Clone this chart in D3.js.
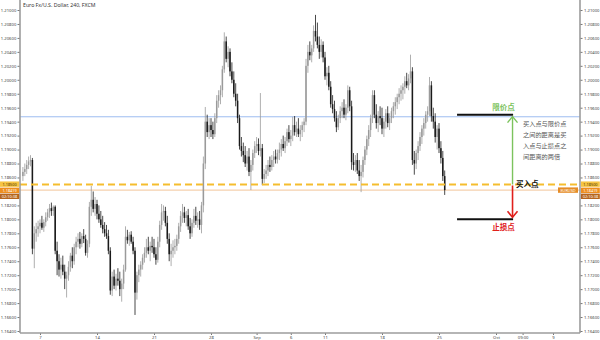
<!DOCTYPE html>
<html lang="zh">
<head>
<meta charset="utf-8">
<title>Euro Fx/U.S. Dollar, 240, FXCM</title>
<script src="https://d3js.org/d3.v7.min.js"></script>
<style>
  body { margin: 0; background: #fff; font-family: "Noto Sans", "Noto Sans CJK SC", sans-serif; }
  svg { display: block; }
</style>
</head>
<body>
<script>
  // ----------------------------------------------------
  // Data: EUR/USD 4h candles (bar 0 = Mon Aug 7 00:00, 6 bars per day)
  // ----------------------------------------------------
  const firstBar = -9;

  const opens = [
    1.1862, 1.1868, 1.1872, 1.1878, 1.1883, 1.1885, 1.1758, 1.1780, 1.1786,
    1.1790, 1.1795, 1.1788, 1.1796, 1.1803, 1.1810,
    1.1816, 1.1812, 1.1818, 1.1755, 1.1740, 1.1728,
    1.1735, 1.1725, 1.1715, 1.1720, 1.1732, 1.1748,
    1.1740, 1.1760, 1.1768, 1.1772, 1.1765, 1.1776,
    1.1772, 1.1752, 1.1765, 1.1818, 1.1828, 1.1815,
    1.1822, 1.1808, 1.1800, 1.1792, 1.1786, 1.1780,
    1.1776, 1.1755, 1.1698, 1.1718, 1.1705, 1.1715,
    1.1712, 1.1700, 1.1708, 1.1728, 1.1775, 1.1770,
    1.1778, 1.1768, 1.1755, 1.1695, 1.1720, 1.1728,
    1.1735, 1.1745, 1.1752, 1.1760, 1.1755, 1.1762,
    1.1760, 1.1750, 1.1742, 1.1768, 1.1792, 1.1810,
    1.1812, 1.1795, 1.1772, 1.1750, 1.1755, 1.1760,
    1.1762, 1.1772, 1.1790, 1.1805, 1.1810, 1.1802,
    1.1806, 1.1790, 1.1780, 1.1795, 1.1805, 1.1798,
    1.1800, 1.1792, 1.1820, 1.1880, 1.1940, 1.1925,
    1.1935, 1.1928, 1.1922, 1.1945, 1.1970, 1.1978,
    1.1985, 1.2015, 1.2055, 1.2030, 1.2040, 1.2012,
    1.2000, 1.1980, 1.1970, 1.1945, 1.1905, 1.1898,
    1.1892, 1.1880, 1.1890, 1.1868, 1.1878, 1.1895,
    1.1905, 1.1908, 1.1898, 1.1902, 1.1858, 1.1865,
    1.1870, 1.1878, 1.1875, 1.1885, 1.1890, 1.1886,
    1.1895, 1.1900, 1.1908, 1.1902, 1.1912, 1.1925,
    1.1915, 1.1920, 1.1935, 1.1925, 1.1930, 1.1922,
    1.1928, 1.1935, 1.1940, 1.2020, 1.2040, 1.2035,
    1.2045, 1.2070, 1.2062, 1.2050, 1.2040, 1.2050,
    1.2032, 1.2005, 1.2010, 1.1990, 1.1965, 1.1958,
    1.1945, 1.1932, 1.1945, 1.1955, 1.1960, 1.1950,
    1.1960, 1.1985, 1.1962, 1.1882, 1.1878, 1.1885,
    1.1870, 1.1862, 1.1868, 1.1885, 1.1900, 1.1915,
    1.1928, 1.1945, 1.1978, 1.1950, 1.1938, 1.1948,
    1.1945, 1.1930, 1.1940, 1.1952, 1.1938, 1.1945,
    1.1955, 1.1962, 1.1968, 1.1975, 1.1980, 1.1985,
    1.1990, 1.1998, 1.1992, 1.2002, 1.2012, 1.1885,
    1.1880, 1.1895, 1.1905, 1.1918, 1.1930, 1.1938,
    1.1950, 1.1955, 1.1992, 1.1948, 1.1940, 1.1918,
    1.1930, 1.1902, 1.1888, 1.1862
  ];

  const highs = [
    1.1875, 1.1880, 1.1885, 1.1890, 1.1892, 1.1888, 1.1790, 1.1795, 1.1798,
    1.1800, 1.1805, 1.1800, 1.1810, 1.1815, 1.1822,
    1.1824, 1.1820, 1.1820, 1.1768, 1.1750, 1.1745,
    1.1748, 1.1735, 1.1725, 1.1740, 1.1752, 1.1760,
    1.1765, 1.1775, 1.1780, 1.1782, 1.1780, 1.1786,
    1.1778, 1.1770, 1.1825, 1.1848, 1.1840, 1.1832,
    1.1828, 1.1820, 1.1812, 1.1805, 1.1796, 1.1792,
    1.1785, 1.1760, 1.1725, 1.1728, 1.1722, 1.1730,
    1.1725, 1.1715, 1.1735, 1.1790, 1.1785, 1.1782,
    1.1783, 1.1775, 1.1760, 1.1725, 1.1735, 1.1740,
    1.1750, 1.1760, 1.1772, 1.1775, 1.1768, 1.1775,
    1.1772, 1.1760, 1.1775, 1.1798, 1.1822, 1.1820,
    1.1818, 1.1805, 1.1780, 1.1765, 1.1770, 1.1772,
    1.1778, 1.1795, 1.1812, 1.1822, 1.1818, 1.1812,
    1.1815, 1.1802, 1.1800, 1.1815, 1.1818, 1.1810,
    1.1812, 1.1825, 1.1890, 1.1961, 1.1950, 1.1945,
    1.1945, 1.1940, 1.1952, 1.1978, 1.1985, 1.1992,
    1.2020, 1.2068, 1.2062, 1.2048, 1.2045, 1.2025,
    1.2012, 1.1995, 1.1980, 1.1950, 1.1918, 1.1910,
    1.1905, 1.1898, 1.1902, 1.1885, 1.1900, 1.1912,
    1.1918, 1.1916, 1.1981, 1.1908, 1.1872, 1.1878,
    1.1885, 1.1890, 1.1892, 1.1898, 1.1900, 1.1900,
    1.1910, 1.1915, 1.1920, 1.1918, 1.1930, 1.1935,
    1.1928, 1.1947, 1.1948, 1.1940, 1.1945, 1.1935,
    1.1940, 1.1945, 1.2030, 1.2050, 1.2055, 1.2050,
    1.2078, 1.2093, 1.2082, 1.2062, 1.2058, 1.2055,
    1.2040, 1.2018, 1.2020, 1.1998, 1.1978, 1.1970,
    1.1955, 1.1950, 1.1962, 1.1968, 1.1972, 1.1965,
    1.1992, 1.1990, 1.1970, 1.1895, 1.1892, 1.1895,
    1.1885, 1.1878, 1.1890, 1.1905, 1.1920, 1.1935,
    1.1950, 1.1985, 1.1985, 1.1965, 1.1955, 1.1962,
    1.1960, 1.1945, 1.1958, 1.1962, 1.1952, 1.1960,
    1.1968, 1.1975, 1.1980, 1.1988, 1.1992, 1.1995,
    1.2005, 1.2010, 1.2008, 1.2036, 1.2018, 1.1898,
    1.1900, 1.1912, 1.1925, 1.1935, 1.1945, 1.1955,
    1.1962, 1.2004, 1.1998, 1.1960, 1.1952, 1.1935,
    1.1938, 1.1912, 1.1898, 1.1870
  ];

  const lows = [
    1.1855, 1.1862, 1.1865, 1.1872, 1.1876, 1.1750, 1.1730, 1.1768, 1.1775,
    1.1780, 1.1785, 1.1782, 1.1790, 1.1798, 1.1802,
    1.1805, 1.1805, 1.1750, 1.1720, 1.1718, 1.1715,
    1.1720, 1.1700, 1.1688, 1.1712, 1.1725, 1.1730,
    1.1735, 1.1750, 1.1760, 1.1758, 1.1760, 1.1766,
    1.1748, 1.1745, 1.1760, 1.1805, 1.1810, 1.1805,
    1.1800, 1.1795, 1.1788, 1.1780, 1.1775, 1.1772,
    1.1750, 1.1692, 1.1690, 1.1700, 1.1698, 1.1705,
    1.1690, 1.1682, 1.1700, 1.1725, 1.1765, 1.1762,
    1.1765, 1.1750, 1.1663, 1.1685, 1.1710, 1.1718,
    1.1728, 1.1738, 1.1745, 1.1750, 1.1740, 1.1752,
    1.1745, 1.1735, 1.1738, 1.1760, 1.1785, 1.1798,
    1.1790, 1.1765, 1.1740, 1.1733, 1.1745, 1.1750,
    1.1755, 1.1765, 1.1782, 1.1795, 1.1795, 1.1790,
    1.1785, 1.1772, 1.1775, 1.1788, 1.1792, 1.1788,
    1.1785, 1.1780, 1.1810, 1.1872, 1.1918, 1.1915,
    1.1918, 1.1915, 1.1918, 1.1938, 1.1960, 1.1965,
    1.1975, 1.2010, 1.2025, 1.2018, 1.2005, 1.1995,
    1.1975, 1.1962, 1.1938, 1.1900, 1.1890, 1.1882,
    1.1875, 1.1870, 1.1862, 1.1842, 1.1870, 1.1888,
    1.1895, 1.1892, 1.1890, 1.1849, 1.1852, 1.1858,
    1.1862, 1.1868, 1.1870, 1.1875, 1.1880, 1.1880,
    1.1885, 1.1890, 1.1898, 1.1895, 1.1905, 1.1910,
    1.1905, 1.1912, 1.1920, 1.1918, 1.1918, 1.1912,
    1.1918, 1.1925, 1.1935, 1.2010, 1.2028, 1.2025,
    1.2040, 1.2055, 1.2045, 1.2030, 1.2032, 1.2025,
    1.2000, 1.1992, 1.1985, 1.1960, 1.1952, 1.1940,
    1.1925, 1.1928, 1.1938, 1.1945, 1.1945, 1.1942,
    1.1952, 1.1955, 1.1871, 1.1870, 1.1868, 1.1865,
    1.1855, 1.1839, 1.1860, 1.1878, 1.1892, 1.1905,
    1.1918, 1.1938, 1.1945, 1.1930, 1.1925, 1.1935,
    1.1922, 1.1918, 1.1930, 1.1932, 1.1928, 1.1938,
    1.1945, 1.1950, 1.1958, 1.1965, 1.1970, 1.1972,
    1.1980, 1.1988, 1.1985, 1.1995, 1.1878, 1.1864,
    1.1872, 1.1885, 1.1898, 1.1908, 1.1920, 1.1930,
    1.1940, 1.1948, 1.1940, 1.1930, 1.1910, 1.1900,
    1.1895, 1.1880, 1.1855, 1.1835
  ];

  const closes = [
    1.1868, 1.1872, 1.1878, 1.1883, 1.1885, 1.1758, 1.1780, 1.1786, 1.1790,
    1.1795, 1.1788, 1.1796, 1.1803, 1.1810, 1.1816,
    1.1812, 1.1818, 1.1755, 1.1740, 1.1728, 1.1735,
    1.1725, 1.1715, 1.1720, 1.1732, 1.1748, 1.1740,
    1.1760, 1.1768, 1.1772, 1.1765, 1.1776, 1.1772,
    1.1752, 1.1765, 1.1818, 1.1828, 1.1815, 1.1822,
    1.1808, 1.1800, 1.1792, 1.1786, 1.1780, 1.1776,
    1.1755, 1.1698, 1.1718, 1.1705, 1.1715, 1.1712,
    1.1700, 1.1708, 1.1728, 1.1775, 1.1770, 1.1778,
    1.1768, 1.1755, 1.1695, 1.1720, 1.1728, 1.1735,
    1.1745, 1.1752, 1.1760, 1.1755, 1.1762, 1.1760,
    1.1750, 1.1742, 1.1768, 1.1792, 1.1810, 1.1812,
    1.1795, 1.1772, 1.1750, 1.1755, 1.1760, 1.1762,
    1.1772, 1.1790, 1.1805, 1.1810, 1.1802, 1.1806,
    1.1790, 1.1780, 1.1795, 1.1805, 1.1798, 1.1800,
    1.1792, 1.1820, 1.1880, 1.1940, 1.1925, 1.1935,
    1.1928, 1.1922, 1.1945, 1.1970, 1.1978, 1.1985,
    1.2015, 1.2055, 1.2030, 1.2040, 1.2012, 1.2000,
    1.1980, 1.1970, 1.1945, 1.1905, 1.1898, 1.1892,
    1.1880, 1.1890, 1.1868, 1.1878, 1.1895, 1.1905,
    1.1908, 1.1898, 1.1902, 1.1858, 1.1865, 1.1870,
    1.1878, 1.1875, 1.1885, 1.1890, 1.1886, 1.1895,
    1.1900, 1.1908, 1.1902, 1.1912, 1.1925, 1.1915,
    1.1920, 1.1935, 1.1925, 1.1930, 1.1922, 1.1928,
    1.1935, 1.1940, 1.2020, 1.2040, 1.2035, 1.2045,
    1.2070, 1.2062, 1.2050, 1.2040, 1.2050, 1.2032,
    1.2005, 1.2010, 1.1990, 1.1965, 1.1958, 1.1945,
    1.1932, 1.1945, 1.1955, 1.1960, 1.1950, 1.1960,
    1.1985, 1.1962, 1.1882, 1.1878, 1.1885, 1.1870,
    1.1862, 1.1868, 1.1885, 1.1900, 1.1915, 1.1928,
    1.1945, 1.1978, 1.1950, 1.1938, 1.1948, 1.1945,
    1.1930, 1.1940, 1.1952, 1.1938, 1.1945, 1.1955,
    1.1962, 1.1968, 1.1975, 1.1980, 1.1985, 1.1990,
    1.1998, 1.1992, 1.2002, 1.2012, 1.1885, 1.1880,
    1.1895, 1.1905, 1.1918, 1.1930, 1.1938, 1.1950,
    1.1955, 1.1992, 1.1948, 1.1940, 1.1918, 1.1930,
    1.1902, 1.1888, 1.1862, 1.1842
  ];

  const yTicks = [1.164, 1.166, 1.168, 1.170, 1.172, 1.174, 1.176, 1.178, 1.180, 1.182, 1.184, 1.186,
                  1.188, 1.190, 1.192, 1.194, 1.196, 1.198, 1.200, 1.202, 1.204, 1.206, 1.208, 1.210];
  const xTickLabels = ["7", "14", "21", "28", "Sep", "6", "11", "18", "25", "Oct", "09:00", "9"];
  const xTickBars   = [0, 30, 60, 90, 114, 132, 150, 180, 210, 240, 254, 270];

  const buyPrice = 1.185;
  const limitPrice = 1.195;
  const stopPrice = 1.180;
  const lastPrice = 1.18419;
  const refLinePrice = 1.1947;
  const countdown = "02:10:38";
  const symbol = "EURUSD";
  const noteLines = ["买入点与限价点", "之间的距离是买", "入点与止损点之", "间距离的两倍"];

  // ----------------------------------------------------
  // Layout
  // ----------------------------------------------------
  const width = 600, height = 340;
  const plotLeft = 20, plotRight = 580, plotBottom = 333;
  const upColor = "#9a9a9a", downColor = "#1a1a1a";
  const axisColor = "#9c9c9c";
  const tickFont = 4.2;
  const tagFont = 3.9;
  const tagH = 5.4;

  const svg = d3.select("body").append("svg")
    .attr("width", width)
    .attr("height", height);

  const x = d3.scaleLinear().domain([-10, 284]).range([21, 579.6]);
  const y = d3.scaleLinear().domain([1.164, 1.21]).range([331, 10]);
  const fmt = d3.format(".5f");

  // price tags sit on top of the axis labels, so those labels are hidden (as in the platform)
  const tags = [
    { text: fmt(buyPrice), cy: y(buyPrice) - 0.3, fill: "#f6c443", color: "#4a3500" },
    { text: fmt(lastPrice), cy: y(lastPrice) + 0.2, fill: "#ee8e1d", color: "#fff" },
    { text: countdown, cy: y(lastPrice) + tagH + 0.8, fill: "#b6651c", color: "#fff" }
  ];
  const visibleTicks = yTicks.filter(v => tags.every(t => Math.abs(y(v) - t.cy) > 4.5));

  // title
  svg.append("text")
    .attr("x", 23).attr("y", 7.3)
    .attr("font-size", 5.2)
    .attr("fill", "#333")
    .text("Euro Fx/U.S. Dollar, 240, FXCM");

  // ----------------------------------------------------
  // Horizontal price lines
  // ----------------------------------------------------
  svg.append("line")
    .attr("x1", plotLeft).attr("x2", plotRight)
    .attr("y1", y(refLinePrice)).attr("y2", y(refLinePrice))
    .attr("stroke", "#9dbcf0").attr("stroke-width", 1);

  svg.append("line")
    .attr("x1", plotLeft).attr("x2", plotRight)
    .attr("y1", y(lastPrice)).attr("y2", y(lastPrice))
    .attr("stroke", "#f2c499").attr("stroke-width", 1);

  // ----------------------------------------------------
  // Candles
  // ----------------------------------------------------
  const bars = closes.map((c, j) => ({ i: firstBar + j, o: opens[j], h: highs[j], l: lows[j], c }));
  const candleG = svg.append("g");

  candleG.selectAll("line")
    .data(bars)
    .join("line")
    .attr("x1", d => x(d.i)).attr("x2", d => x(d.i))
    .attr("y1", d => y(d.h)).attr("y2", d => y(d.l))
    .attr("stroke", d => d.c >= d.o ? upColor : downColor)
    .attr("stroke-width", 0.8);

  candleG.selectAll("rect")
    .data(bars)
    .join("rect")
    .attr("x", d => x(d.i) - 0.75)
    .attr("width", 1.5)
    .attr("y", d => y(Math.max(d.o, d.c)))
    .attr("height", d => Math.max(0.8, Math.abs(y(d.o) - y(d.c))))
    .attr("fill", d => d.c >= d.o ? upColor : downColor);

  // dashed buy line (drawn over candles)
  svg.append("line")
    .attr("x1", plotLeft).attr("x2", plotRight)
    .attr("y1", y(buyPrice)).attr("y2", y(buyPrice))
    .attr("stroke", "#f5bd2e").attr("stroke-width", 2)
    .attr("stroke-dasharray", "7,4");

  // ----------------------------------------------------
  // Axes
  // ----------------------------------------------------
  function styleAxis(g) {
    g.select(".domain").remove();
    g.selectAll(".tick line").attr("stroke", "#777");
    g.selectAll(".tick text").attr("fill", "#444").attr("font-size", tickFont);
    g.attr("font-family", "'Noto Sans', sans-serif");
  }

  svg.append("g")
    .attr("transform", `translate(${plotLeft},0)`)
    .call(d3.axisLeft(y).tickValues(visibleTicks).tickFormat(fmt).tickSize(2.5).tickPadding(1.2))
    .call(styleAxis);

  svg.append("g")
    .attr("transform", `translate(${plotRight},0)`)
    .call(d3.axisRight(y).tickValues(visibleTicks).tickFormat(fmt).tickSize(2.5).tickPadding(1.5))
    .call(styleAxis);

  svg.append("g")
    .attr("transform", `translate(0,${plotBottom})`)
    .call(d3.axisBottom(x).tickValues(xTickBars).tickFormat((d, i) => xTickLabels[i]).tickSize(2).tickPadding(0.8))
    .call(styleAxis);

  // frame lines
  svg.append("line").attr("x1", plotLeft).attr("x2", plotLeft).attr("y1", 0).attr("y2", plotBottom)
    .attr("stroke", axisColor).attr("stroke-width", 1.6);
  svg.append("line").attr("x1", plotRight).attr("x2", plotRight).attr("y1", 0).attr("y2", plotBottom)
    .attr("stroke", axisColor).attr("stroke-width", 1.6);
  svg.append("line").attr("x1", plotLeft).attr("x2", plotRight).attr("y1", plotBottom).attr("y2", plotBottom)
    .attr("stroke", axisColor).attr("stroke-width", 1.6);

  // ----------------------------------------------------
  // Price tags on both axes
  // ----------------------------------------------------
  [[0, 19.2], [581, 18.8]].forEach(([tx, tw]) => {
    tags.forEach(t => {
      svg.append("rect")
        .attr("x", tx).attr("y", t.cy - tagH / 2)
        .attr("width", tw).attr("height", tagH)
        .attr("fill", t.fill);
      svg.append("text")
        .attr("x", tx + tw / 2).attr("y", t.cy + tagFont * 0.36)
        .attr("text-anchor", "middle")
        .attr("font-size", tagFont).attr("fill", t.color)
        .text(t.text);
    });
  });

  svg.append("rect")
    .attr("x", 558).attr("y", y(lastPrice) - tagH / 2)
    .attr("width", 20).attr("height", tagH)
    .attr("fill", "#e58c27");
  svg.append("text")
    .attr("x", 568).attr("y", y(lastPrice) + tagFont * 0.36)
    .attr("text-anchor", "middle")
    .attr("font-size", tagFont).attr("fill", "#fff")
    .text(symbol);

  // ----------------------------------------------------
  // Annotations: limit / buy / stop
  // ----------------------------------------------------
  const annoX1 = x(219.5), annoX2 = x(249);
  const arrowX = x(248.7);
  const cjk = "'Noto Sans CJK SC', sans-serif";

  [limitPrice, stopPrice].forEach(p => {
    svg.append("line")
      .attr("x1", annoX1).attr("x2", annoX2)
      .attr("y1", y(p)).attr("y2", y(p))
      .attr("stroke", "#111").attr("stroke-width", 2);
  });

  // green arrow up to the limit
  const green = "#7cc35d", red = "#e0201c";
  svg.append("line")
    .attr("x1", arrowX).attr("x2", arrowX)
    .attr("y1", y(buyPrice)).attr("y2", y(limitPrice) + 2)
    .attr("stroke", green).attr("stroke-width", 1.4);
  svg.append("path")
    .attr("d", `M${arrowX - 5},${y(limitPrice) + 8} L${arrowX},${y(limitPrice) + 2} L${arrowX + 5},${y(limitPrice) + 8}`)
    .attr("fill", "none").attr("stroke", green).attr("stroke-width", 1.4);

  // red arrow down to the stop
  svg.append("line")
    .attr("x1", arrowX).attr("x2", arrowX)
    .attr("y1", y(buyPrice) + 1).attr("y2", y(stopPrice) - 2)
    .attr("stroke", red).attr("stroke-width", 1.6);
  svg.append("path")
    .attr("d", `M${arrowX - 5},${y(stopPrice) - 8} L${arrowX},${y(stopPrice) - 2} L${arrowX + 5},${y(stopPrice) - 8}`)
    .attr("fill", "none").attr("stroke", red).attr("stroke-width", 1.6);

  svg.append("text")
    .attr("x", arrowX - 9).attr("y", y(limitPrice) - 8)
    .attr("text-anchor", "middle").attr("dominant-baseline", "central")
    .attr("font-family", cjk).attr("font-weight", "bold")
    .attr("font-size", 7.5).attr("fill", green)
    .text("限价点");

  svg.append("text")
    .attr("x", arrowX - 9).attr("y", y(stopPrice) + 7.5)
    .attr("text-anchor", "middle").attr("dominant-baseline", "central")
    .attr("font-family", cjk).attr("font-weight", "bold")
    .attr("font-size", 7.5).attr("fill", red)
    .text("止损点");

  svg.append("text")
    .attr("x", arrowX + 3.5).attr("y", y(buyPrice) - 0.5)
    .attr("dominant-baseline", "central")
    .attr("font-family", cjk).attr("font-weight", "bold")
    .attr("font-size", 7.5).attr("fill", "#111")
    .text("买入点");

  svg.append("g")
    .selectAll("text")
    .data(noteLines)
    .join("text")
    .attr("x", arrowX + 10.5)
    .attr("y", (d, i) => y(limitPrice) + 8.6 + i * 11.1)
    .attr("dominant-baseline", "central")
    .attr("font-family", cjk)
    .attr("font-size", 6.2).attr("fill", "#555")
    .text(d => d);
</script>
</body>
</html>
